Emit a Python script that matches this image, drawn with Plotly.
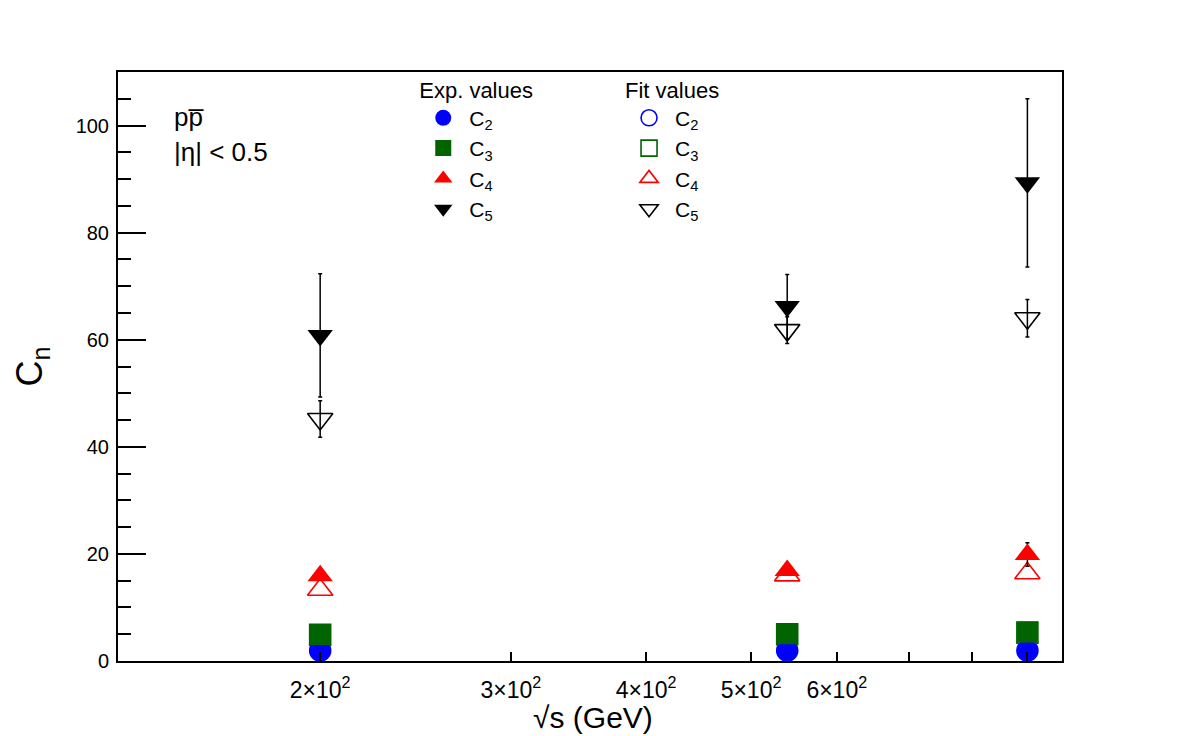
import plotly.graph_objects as go

# ---- data ----
energies = [200, 540, 900]          # sqrt(s) in GeV
c2_exp = [2.0, 2.0, 2.0]
c3_exp = [4.95, 5.1, 5.4]
c4_exp = [15.9, 16.9, 19.9]
c5_exp = [60.8, 66.2, 89.3]
c4_exp_err = [0.8, 0.8, 2.2]
c5_exp_err = [11.5, 6.0, 15.7]

c2_fit = [1.95, 1.95, 1.95]
c3_fit = [4.9, 5.0, 5.3]
c4_fit = [13.3, 16.0, 16.4]
c5_fit = [45.2, 61.8, 64.0]
c5_fit_err = [3.4, 2.5, 3.5]

x_tickvals = [200, 300, 400, 500, 600, 700, 800, 900]
x_ticktext = ["2×10<sup>2</sup>", "3×10<sup>2</sup>", "4×10<sup>2</sup>",
              "5×10<sup>2</sup>", "6×10<sup>2</sup>", "", "", ""]

FONT = "Liberation Sans, Arial, Helvetica, sans-serif"
BLUE, GREEN, RED, BLACK = "#0000ff", "#006400", "#ff0000", "#000000"

fig = go.Figure()

def err(arr):
    return dict(type="data", array=arr, visible=True, color=BLACK,
                thickness=1.5, width=2)

# fit values (drawn underneath)
fit_specs = [
    ("C<sub>2</sub>", c2_fit, "circle-open", BLUE, 21, None),
    ("C<sub>3</sub>", c3_fit, "square-open", GREEN, 21, None),
    ("C<sub>4</sub>", c4_fit, "triangle-up-open", RED, 22, None),
    ("C<sub>5</sub>", c5_fit, "triangle-down-open", BLACK, 22, c5_fit_err),
]
for name, vals, sym, col, size, e in fit_specs:
    tr = go.Scatter(
        x=energies, y=vals, mode="markers", name=name, legend="legend2",
        marker=dict(symbol=sym, size=size, color=col, line=dict(color=col, width=1.6)),
    )
    if e:
        tr.error_y = err(e)
    fig.add_trace(tr)

exp_specs = [
    ("C<sub>2</sub>", c2_exp, "circle", BLUE, 21, None),
    ("C<sub>3</sub>", c3_exp, "square", GREEN, 21, None),
    ("C<sub>4</sub>", c4_exp, "triangle-up", RED, 22, c4_exp_err),
    ("C<sub>5</sub>", c5_exp, "triangle-down", BLACK, 22, c5_exp_err),
]
for name, vals, sym, col, size, e in exp_specs:
    tr = go.Scatter(
        x=energies, y=vals, mode="markers", name=name, legend="legend",
        marker=dict(symbol=sym, size=size, color=col, line=dict(width=0)),
    )
    if e:
        tr.error_y = err(e)
    fig.add_trace(tr)

legend_common = dict(
    y=1.005, xanchor="left", yanchor="top",
    bgcolor="rgba(0,0,0,0)", font=dict(size=21),
    itemsizing="trace", tracegroupgap=0, itemwidth=42,
)

fig.update_layout(
    width=1182, height=736,
    margin=dict(l=118, r=120, t=72, b=75, autoexpand=False),
    paper_bgcolor="white", plot_bgcolor="white",
    font=dict(family=FONT, size=19, color="black"),
    showlegend=True,
    legend=dict(title=dict(text="Exp. values", font=dict(size=22)),
                x=0.317, **legend_common),
    legend2=dict(title=dict(text="Fit values", font=dict(size=22)),
                 x=0.535, **legend_common),
    xaxis=dict(
        type="log", range=[2.1143, 2.9862], automargin=False,
        tickmode="array", tickvals=x_tickvals, ticktext=x_ticktext,
        ticks="inside", ticklen=9, tickwidth=1.5, tickcolor="black",
        showline=True, linewidth=2, linecolor="black", mirror=True,
        showgrid=False, zeroline=False,
        tickfont=dict(size=23), ticklabelstandoff=7,
    ),
    yaxis=dict(
        range=[0, 110], dtick=20, tick0=0, automargin=False,
        ticks="inside", ticklen=28, tickwidth=1.5, tickcolor="black",
        minor=dict(dtick=5, ticks="inside", ticklen=13, tickwidth=1.5,
                   tickcolor="black", showgrid=False),
        showline=True, linewidth=2, linecolor="black", mirror=True,
        showgrid=False, zeroline=False,
        tickfont=dict(size=20), ticklabelstandoff=3,
        title=dict(text="C<sub>n</sub>", font=dict(size=36), standoff=22),
    ),
    annotations=[
        dict(text="pp\u0305", xref="paper", yref="paper", x=0.057, y=0.923,
             xanchor="left", yanchor="middle", showarrow=False, font=dict(size=26)),
        dict(text="|η| &lt; 0.5", xref="paper", yref="paper", x=0.057, y=0.864,
             xanchor="left", yanchor="middle", showarrow=False, font=dict(size=26)),
        dict(text="√s (GeV)", xref="paper", yref="paper", x=0.503, y=-0.096,
             xanchor="center", yanchor="middle", showarrow=False, font=dict(size=30)),
    ],
)

fig.write_html("out.html")
